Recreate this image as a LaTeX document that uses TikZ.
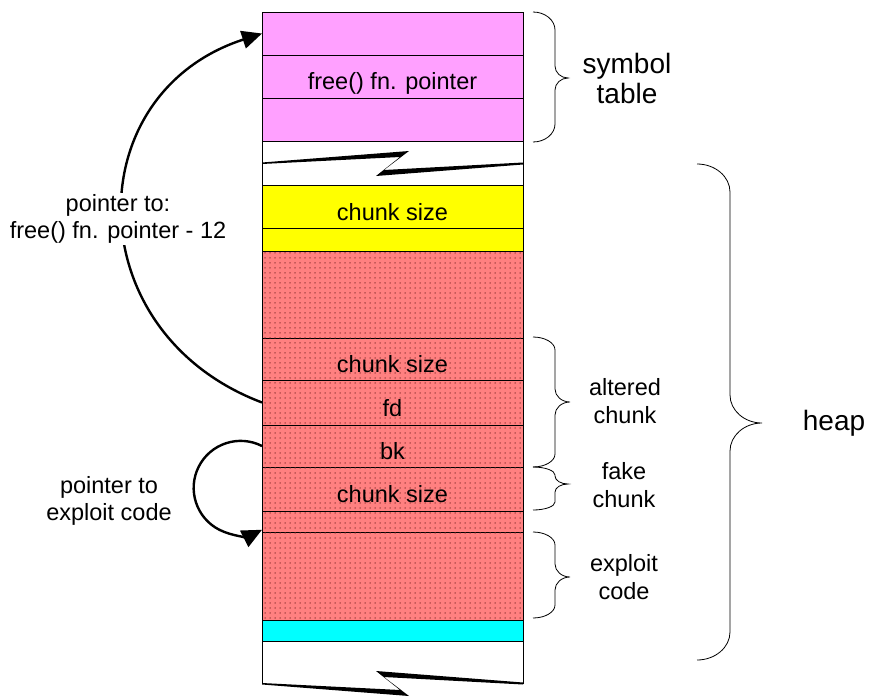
\documentclass[tikz,border=0pt]{standalone}
\usepackage{fontspec}
\setmainfont{Liberation Sans}
\usetikzlibrary{positioning,arrows.meta,patterns.meta}

\definecolor{symcolor}{RGB}{255,160,255}
\definecolor{sizecolor}{RGB}{255,255,0}
\definecolor{heapcolor}{RGB}{255,128,128}
\definecolor{dotcolor}{RGB}{140,50,50}
\definecolor{endcolor}{RGB}{0,255,255}

% curly brace on the right: base x, stem x, tip x, top y, tip y, bottom y, hook radius, tip radius
\newcommand{\sidebrace}[8]{%
  \draw[bracestyle] (#1,#4) .. controls ({#1+0.55*(#2-#1)},#4) and (#2,{#4+0.45*#7}) .. (#2,{#4+#7})
    -- (#2,{#5-#8}) .. controls (#2,{#5-0.45*#8}) and ({#3-0.55*(#3-#2)},#5) .. (#3,#5)
    .. controls ({#3-0.55*(#3-#2)},#5) and (#2,{#5+0.45*#8}) .. (#2,{#5+#8})
    -- (#2,{#6-#7}) .. controls (#2,{#6-0.45*#7}) and ({#1+0.55*(#2-#1)},#6) .. (#1,#6);}

\begin{document}
\begin{tikzpicture}[x=1pt,y=-1pt,node distance=0pt,
    cell/.style={draw, line width=0.7pt, minimum width=261pt, inner sep=0pt, outer sep=0pt},
    entry/.style={cell, text height=27pt, text depth=0pt, font=\fontsize{23.5}{28}\selectfont},
    heapcell/.style={fill=heapcolor, postaction={pattern={Dots[distance=5pt, radius=0.75pt]}, pattern color=dotcolor}},
    sidetext/.style={align=center, font=\fontsize{23.5}{27.5}\selectfont},
    bigtext/.style={align=center, font=\fontsize{28}{30}\selectfont},
    ptr/.style={line width=2.4pt, -{Triangle[length=20pt,width=18pt]}},
    bracestyle/.style={line width=0.8pt}]
    \useasboundingbox (0,0) rectangle (869,698);

    % symbol table
    \node[cell, fill=symcolor, minimum height=43pt, anchor=north west] (sym top) at (262,12) {};
    \node[entry, fill=symcolor, minimum height=43pt, below=of sym top] (free ptr) {free() fn. pointer};
    \node[cell, fill=symcolor, minimum height=43pt, below=of free ptr] (sym bottom) {};
    \node[cell, minimum height=44pt, below=of sym bottom] (top gap) {};

    % heap
    \node[entry, fill=sizecolor, minimum height=43pt, below=of top gap] (prev size) {chunk size};
    \node[cell, fill=sizecolor, minimum height=23pt, below=of prev size] (prev pad) {};
    \node[cell, heapcell, minimum height=87pt, below=of prev pad] (prev data) {};
    \node[entry, heapcell, minimum height=42pt, below=of prev data] (alt size) {chunk size};
    \node[entry, heapcell, minimum height=45pt, below=of alt size] (fd) {fd};
    \node[entry, heapcell, minimum height=42pt, below=of fd] (bk) {bk};
    \node[entry, heapcell, minimum height=44pt, below=of bk] (fake size) {chunk size};
    \node[cell, heapcell, minimum height=21pt, below=of fake size] (fake pad) {};
    \node[cell, heapcell, minimum height=88pt, below=of fake pad] (exploit) {};
    \node[cell, fill=endcolor, minimum height=21pt, below=of exploit] (top chunk) {};
    \node[cell, draw=none, minimum height=43pt, below=of top chunk] (tail) {};
    \draw[line width=0.7pt] (tail.north west) -- (tail.south west);
    \draw[line width=0.7pt] (tail.north east) -- (tail.south east);

    % breaks
    \fill[shift={(top gap.west)}] (0,-0.5) -- (147,-12) -- (122,7) -- (261,-0.5)
        -- (261,1.5) -- (114,13) -- (138,-6) -- (0,1) -- cycle;
    \fill[shift={(tail.south west)}] (0,0.5) -- (147,12) -- (122,-7) -- (261,0.5)
        -- (261,-1.5) -- (114,-13) -- (138,6) -- (0,-1) -- cycle;

    % pointers
    \draw[ptr] (fd.west) .. controls +(-185,-70) and +(-185,60) .. (sym top.west);
    \draw[ptr] (bk.west) arc[start angle=63, end angle=297, radius=47pt];

    \node[sidetext, fill=white, inner sep=1pt] (fn label) at (118,219) {pointer to:\\free() fn. pointer - 12};
    \node[sidetext] (code ptr label) at (109,501) {pointer to\\exploit code};

    % braces
    \sidebrace{533}{555}{568}{12}{78}{142}{18}{12}
    \sidebrace{533}{555}{570}{337}{402}{467}{13}{13}
    \sidebrace{533}{555}{568}{467}{484}{510}{8}{8}
    \sidebrace{533}{555}{570}{532}{577}{618}{13}{13}
    \sidebrace{697}{730}{762}{164}{423}{660}{28}{28}

    \node[bigtext] (sym label) at (627,78) {symbol\\table};
    \node[sidetext] (altered label) at (625,401) {altered\\chunk};
    \node[sidetext] (fake label) at (624,485) {fake\\chunk};
    \node[sidetext] (code label) at (624,577) {exploit\\code};
    \node[bigtext] (heap label) at (834,423) {heap};
\end{tikzpicture}
\end{document}
